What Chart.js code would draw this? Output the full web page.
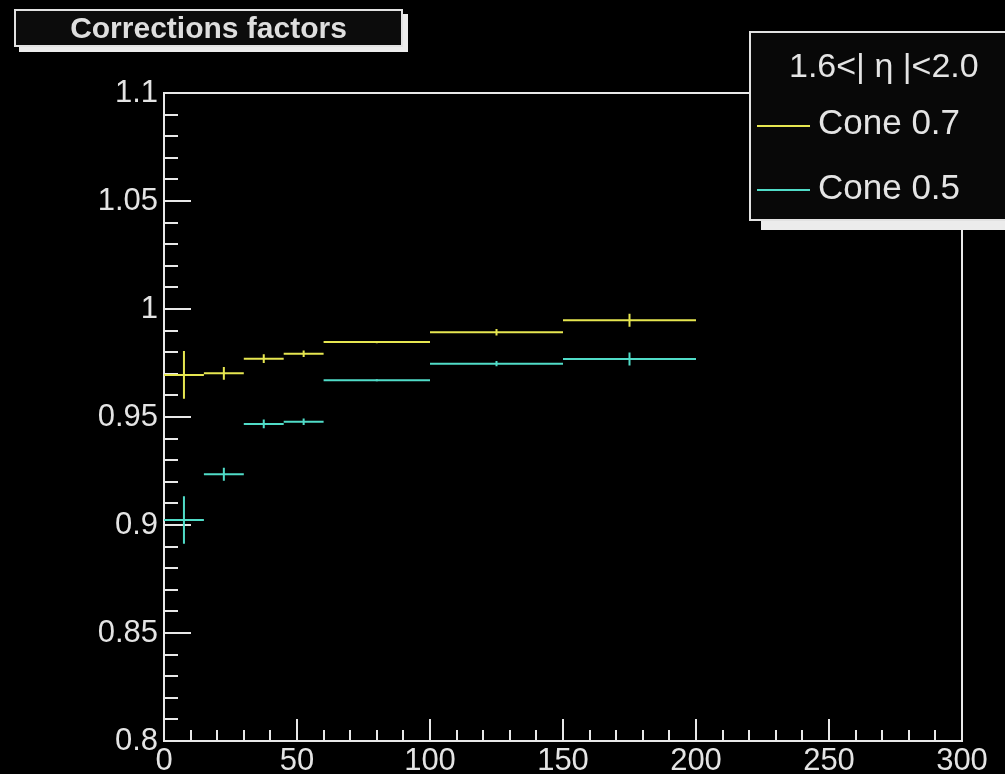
<!DOCTYPE html>
<html>
<head>
<meta charset="utf-8">
<script src="https://cdn.jsdelivr.net/npm/chart.js@4/dist/chart.umd.min.js"></script>
<style>
  html, body { margin: 0; padding: 0; background: #000; overflow: hidden; }
  #wrap { position: relative; width: 1005px; height: 774px; }
  canvas { position: absolute; left: 0; top: 0; }
  .box { position: absolute; box-sizing: border-box; border: 2px solid #e2e2e2; }
  #title { left: 14px; top: 9px; width: 389px; height: 38px; background: #0c0c0c;
           box-shadow: 5px 5px 0 0 #ececec; color: #dedede; text-align: center;
           font: bold 30px "Liberation Sans", Arial, sans-serif; line-height: 33px; }
  #legend { left: 749px; top: 31px; width: 280px; height: 190px; background: #080808;
            box-shadow: 12px 9px 0 0 #ececec; }
  .txt { position: absolute; color: #e4e4e4; font-family: "Liberation Sans", Arial, sans-serif; white-space: nowrap; }
  .sample { position: absolute; height: 2px; width: 53px; }
</style>
</head>
<body>
<div id="wrap">
  <canvas id="corr" width="1005" height="774"></canvas>
  <div class="box" id="title">Corrections factors</div>
  <div class="box" id="legend"></div>
  <div class="txt" style="left:789px; top:45px; height:40px; line-height:40px; font-size:34px;">1.6&lt;| η |&lt;2.0</div>
  <div class="sample" style="left:757px; top:125px; background:#e6e650;"></div>
  <div class="txt" style="left:818px; top:102px; height:40px; line-height:40px; font-size:35px;">Cone 0.7</div>
  <div class="sample" style="left:757px; top:189px; background:#50dcc8;"></div>
  <div class="txt" style="left:818px; top:167px; height:40px; line-height:40px; font-size:35px;">Cone 0.5</div>
</div>
<script>
// bin edges of the histograms and the correction factor per bin
var binEdges = [0, 15, 30, 45, 60, 100, 150, 200];
var cone07 = [0.9695, 0.9702, 0.9770, 0.9793, 0.9847, 0.9892, 0.9948];
var cone07Err = [0.011, 0.003, 0.002, 0.0015, 0.0005, 0.0015, 0.003];
var cone05 = [0.9023, 0.9235, 0.9468, 0.9478, 0.9670, 0.9747, 0.9769];
var cone05Err = [0.011, 0.003, 0.002, 0.0015, 0.0005, 0.0012, 0.003];
var yTicks = [0.8, 0.85, 0.9, 0.95, 1, 1.05, 1.1];

var YELLOW = '#e6e650';
var CYAN = '#50dcc8';

// horizontal line per bin, broken with nulls
function binSegments(vals) {
    var pts = [];
    vals.forEach(function (v, i) {
        pts.push({x: binEdges[i], y: v}, {x: binEdges[i + 1], y: v}, {x: binEdges[i + 1], y: null});
    });
    return pts;
}

// vertical error bar at each bin centre
function errorBars(vals, errs) {
    var pts = [];
    vals.forEach(function (v, i) {
        var c = (binEdges[i] + binEdges[i + 1]) / 2;
        pts.push({x: c, y: v - errs[i]}, {x: c, y: v + errs[i]}, {x: c, y: null});
    });
    return pts;
}

function lineSet(label, data, color) {
    return {
        label: label,
        data: data,
        borderColor: color,
        backgroundColor: color,
        borderWidth: 2,
        pointRadius: 0,
        tension: 0,
        spanGaps: false
    };
}

// ROOT style frame with inward ticks
var rootFrame = {
    id: 'rootFrame',
    beforeDatasetsDraw: function (chart) {
        var c = chart.ctx, a = chart.chartArea;
        var xs = chart.scales.x, ys = chart.scales.y;
        c.save();
        c.strokeStyle = '#e8e8e8';
        c.lineWidth = 2;
        c.strokeRect(a.left, a.top, a.right - a.left, a.bottom - a.top);
        c.beginPath();
        for (var i = 0; i <= 30; i++) {
            var py = Math.round(ys.getPixelForValue(0.8 + i * 0.01));
            var len = (i % 5 === 0) ? 27 : 14;
            c.moveTo(a.left, py);
            c.lineTo(a.left + len, py);
        }
        for (var j = 0; j <= 30; j++) {
            var px = Math.round(xs.getPixelForValue(j * 10));
            var l2 = (j % 5 === 0) ? 22 : 11;
            c.moveTo(px, a.bottom);
            c.lineTo(px, a.bottom - l2);
        }
        c.stroke();
        c.restore();
    }
};

var ctx = document.getElementById('corr').getContext('2d');
var chart = new Chart(ctx, {
    type: 'line',
    data: {
        datasets: [
            lineSet('Cone 0.7', binSegments(cone07), YELLOW),
            lineSet('Cone 0.7 err', errorBars(cone07, cone07Err), YELLOW),
            lineSet('Cone 0.5', binSegments(cone05), CYAN),
            lineSet('Cone 0.5 err', errorBars(cone05, cone05Err), CYAN)
        ]
    },
    options: {
        responsive: false,
        animation: false,
        devicePixelRatio: 1,
        layout: {
            padding: {top: 93, right: 43, left: 0, bottom: 0}
        },
        plugins: {
            legend: {display: false},
            tooltip: {enabled: false}
        },
        scales: {
            x: {
                type: 'linear',
                min: 0,
                max: 300,
                grid: {display: false, drawTicks: false, tickLength: 0},
                border: {display: false},
                ticks: {
                    stepSize: 50,
                    padding: 2,
                    color: '#e4e4e4',
                    maxRotation: 0,
                    font: {family: 'Liberation Sans', size: 31}
                },
                afterFit: function (s) { s.height = 33; }
            },
            y: {
                type: 'linear',
                min: 0.8,
                max: 1.1,
                grid: {display: false, drawTicks: false, tickLength: 0},
                border: {display: false},
                afterBuildTicks: function (s) {
                    s.ticks = yTicks.map(function (v) { return {value: v}; });
                },
                ticks: {
                    padding: 6,
                    color: '#e4e4e4',
                    font: {family: 'Liberation Sans', size: 31},
                    callback: function (v) { return String(parseFloat(Number(v).toFixed(2))); }
                },
                afterFit: function (s) { s.width = 164; }
            }
        }
    },
    plugins: [rootFrame]
});
</script>
</body>
</html>
